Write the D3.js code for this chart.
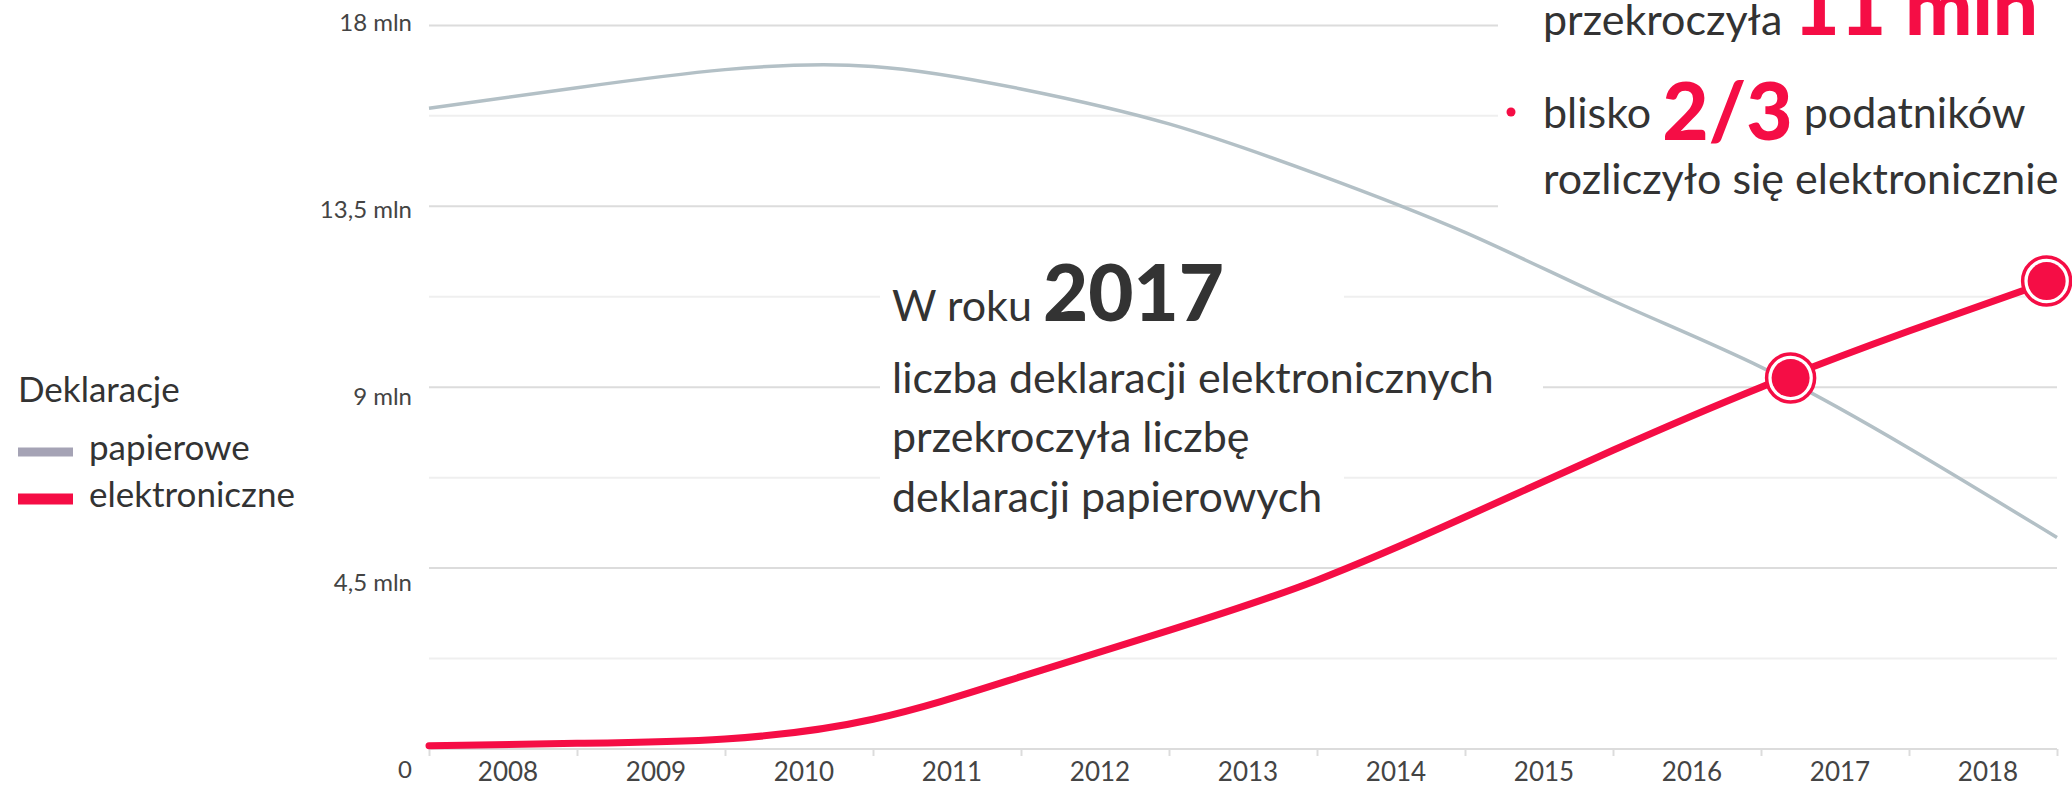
<!DOCTYPE html>
<html lang="pl">
<head>
<meta charset="utf-8">
<script src="https://cdn.jsdelivr.net/npm/d3@7"></script>
<style>
	body { margin: 0; background: #fff; }
	#chart { width: 2072px; height: 788px; overflow: hidden; }
	text { font-family: Lato, "Open Sans", sans-serif; fill: #333; }
</style>
</head>
<body>
<div id="chart"></div>
<script>
const pointYears = [2007.5, 2008.5, 2009.5, 2010.5, 2011.5, 2012.5, 2013.5, 2014.5, 2015.5, 2016.5, 2017.5, 2018.5]
const paperValues = [15.94, 16.45, 16.9, 16.98, 16.42, 15.55, 14.3, 12.85, 11.15, 9.5, 7.48, 5.26]
const electronicValues = [0.08, 0.14, 0.25, 0.74, 1.8, 2.95, 4.2, 5.77, 7.43, 9.0, 10.4, 11.7]
const yearLabels = [2008, 2009, 2010, 2011, 2012, 2013, 2014, 2015, 2016, 2017, 2018]
const yTicks = [0, 4.5, 9, 13.5, 18]
const yTickLabels = ["0", "4,5 mln", "9 mln", "13,5 mln", "18 mln"]
const highlights = [
	{ year: 2016.7, value: 9.23 },
	{ year: 2018.43, value: 11.64 },
]
const legendItems = [
	{ label: "papierowe", color: "#a5a3b5", h: 9 },
	{ label: "elektroniczne", color: "#f50d45", h: 11 },
]

const RED = "#f50d45"
const GREY = "#b3c0c6"

function renderChart() {
	const width = 2072
	const height = 788

	const svg = d3
		.select("#chart")
		.append("svg")
		.attr("width", width)
		.attr("height", height)

	const x = d3.scaleLinear().domain([2007.5, 2018.5]).range([429, 2057])
	const y = d3.scaleLinear().domain([0, 18]).range([749, 25.4])
	// tick labels sit on a slightly stretched scale in the original
	const yLabel = d3.scaleLinear().domain([0, 18]).range([778, 31])

	// Gridlines
	const gridValues = d3.range(0, 18.01, 2.25)
	svg.append("g")
		.attr("class", "grid")
		.selectAll("line")
		.data(gridValues)
		.join("line")
		.attr("x1", x(2007.5))
		.attr("x2", x(2018.5))
		.attr("y1", (d) => y(d))
		.attr("y2", (d) => y(d))
		.style("stroke", (d) => (d % 4.5 === 0 ? "#dcdcdc" : "#efefef"))
		.style("stroke-width", "2px")

	// Tick marks on the x axis (between years)
	svg.append("g")
		.attr("class", "x-ticks")
		.attr("transform", `translate(0,${y(0)})`)
		.call(d3.axisBottom(x).tickValues(pointYears).tickSize(7).tickFormat(""))
		.call((g) => g.select(".domain").remove())
		.selectAll("line")
		.style("stroke", "#dcdcdc")
		.style("stroke-width", "2px")

	// Year labels
	svg.append("g")
		.attr("class", "x-labels")
		.selectAll("text")
		.data(yearLabels)
		.join("text")
		.attr("x", (d) => x(d) + 5)
		.attr("y", 781)
		.attr("text-anchor", "middle")
		.style("font-size", "26px")
		.style("fill", "#444")
		.text((d) => d)

	// Y labels
	svg.append("g")
		.attr("class", "y-labels")
		.selectAll("text")
		.data(yTicks)
		.join("text")
		.attr("x", 412)
		.attr("y", (d) => yLabel(d))
		.attr("text-anchor", "end")
		.style("font-size", "24px")
		.style("fill", "#444")
		.text((d, i) => yTickLabels[i])

	// White boxes behind the annotations
	const boxes = [
		{ x: 1498, y: 0, w: 574, h: 215 },
		{ x: 880, y: 270, w: 464, h: 250 },
		{ x: 880, y: 358, w: 663, h: 48 },
	]
	svg.append("g")
		.selectAll("rect")
		.data(boxes)
		.join("rect")
		.attr("x", (d) => d.x)
		.attr("y", (d) => d.y)
		.attr("width", (d) => d.w)
		.attr("height", (d) => d.h)
		.style("fill", "#fff")

	// Lines
	const line = d3
		.line()
		.x((d) => x(d[0]))
		.y((d) => y(d[1]))
		.curve(d3.curveNatural)

	svg.append("path")
		.datum(d3.zip(pointYears, paperValues))
		.attr("class", "line paper")
		.attr("fill", "none")
		.attr("stroke", GREY)
		.attr("stroke-width", 3.5)
		.attr("d", line)

	svg.append("path")
		.datum(d3.zip(pointYears, electronicValues))
		.attr("class", "line electronic")
		.attr("fill", "none")
		.attr("stroke", RED)
		.attr("stroke-width", 7)
		.attr("stroke-linecap", "round")
		.attr("d", line)

	// Highlight markers
	const marks = svg
		.append("g")
		.selectAll("g")
		.data(highlights)
		.join("g")
		.attr("transform", (d) => `translate(${x(d.year)},${y(d.value)})`)

	marks.append("circle")
		.attr("r", 24)
		.style("fill", "#fff")
		.style("stroke", RED)
		.style("stroke-width", 3.5)
	marks.append("circle").attr("r", 19).style("fill", RED)

	// Legend
	svg.append("text")
		.attr("x", 18)
		.attr("y", 402)
		.style("font-size", "35px")
		.text("Deklaracje")

	const legendRow = svg
		.append("g")
		.selectAll("g")
		.data(legendItems)
		.join("g")
		.attr("transform", (d, i) => `translate(18, ${452 + i * 47})`)

	legendRow
		.append("rect")
		.attr("x", 0)
		.attr("y", (d) => -d.h / 2)
		.attr("width", 55)
		.attr("height", (d) => d.h)
		.style("fill", (d) => d.color)

	legendRow
		.append("text")
		.attr("x", 71)
		.attr("y", 8)
		.style("font-size", "35px")
		.text((d) => d.label)

	// Middle annotation
	const note = svg.append("g").style("font-size", "43px")
	const first = note.append("text").attr("x", 892).attr("y", 321)
	first.append("tspan").text("W roku ")
	first.append("tspan")
		.style("font-size", "78px")
		.style("font-weight", 900)
		.text("2017")
	note.append("text").attr("x", 892).attr("y", 393).text("liczba deklaracji elektronicznych")
	note.append("text").attr("x", 892).attr("y", 452).text("przekroczyła liczbę")
	note.append("text").attr("x", 892).attr("y", 512).text("deklaracji papierowych")

	// Top right annotation
	const side = svg.append("g").style("font-size", "43px")
	const rowA = side.append("text").attr("x", 1543).attr("y", 35)
	rowA.append("tspan").text("przekroczyła ")
	rowA.append("tspan")
		.style("font-size", "80px")
		.style("font-weight", 900)
		.style("fill", RED)
		.text("11 mln")

	side.append("circle").attr("cx", 1511).attr("cy", 112).attr("r", 4.5).style("fill", RED)
	const rowB = side.append("text").attr("x", 1543).attr("y", 128)
	rowB.append("tspan").text("blisko ")
	rowB.append("tspan")
		.attr("dy", 12)
		.style("font-size", "80px")
		.style("font-weight", 900)
		.style("fill", RED)
		.text("2/3")
	rowB.append("tspan").attr("dy", -12).text(" podatników")

	side.append("text").attr("x", 1543).attr("y", 194).text("rozliczyło się elektronicznie")
}

renderChart()
</script>
</body>
</html>
